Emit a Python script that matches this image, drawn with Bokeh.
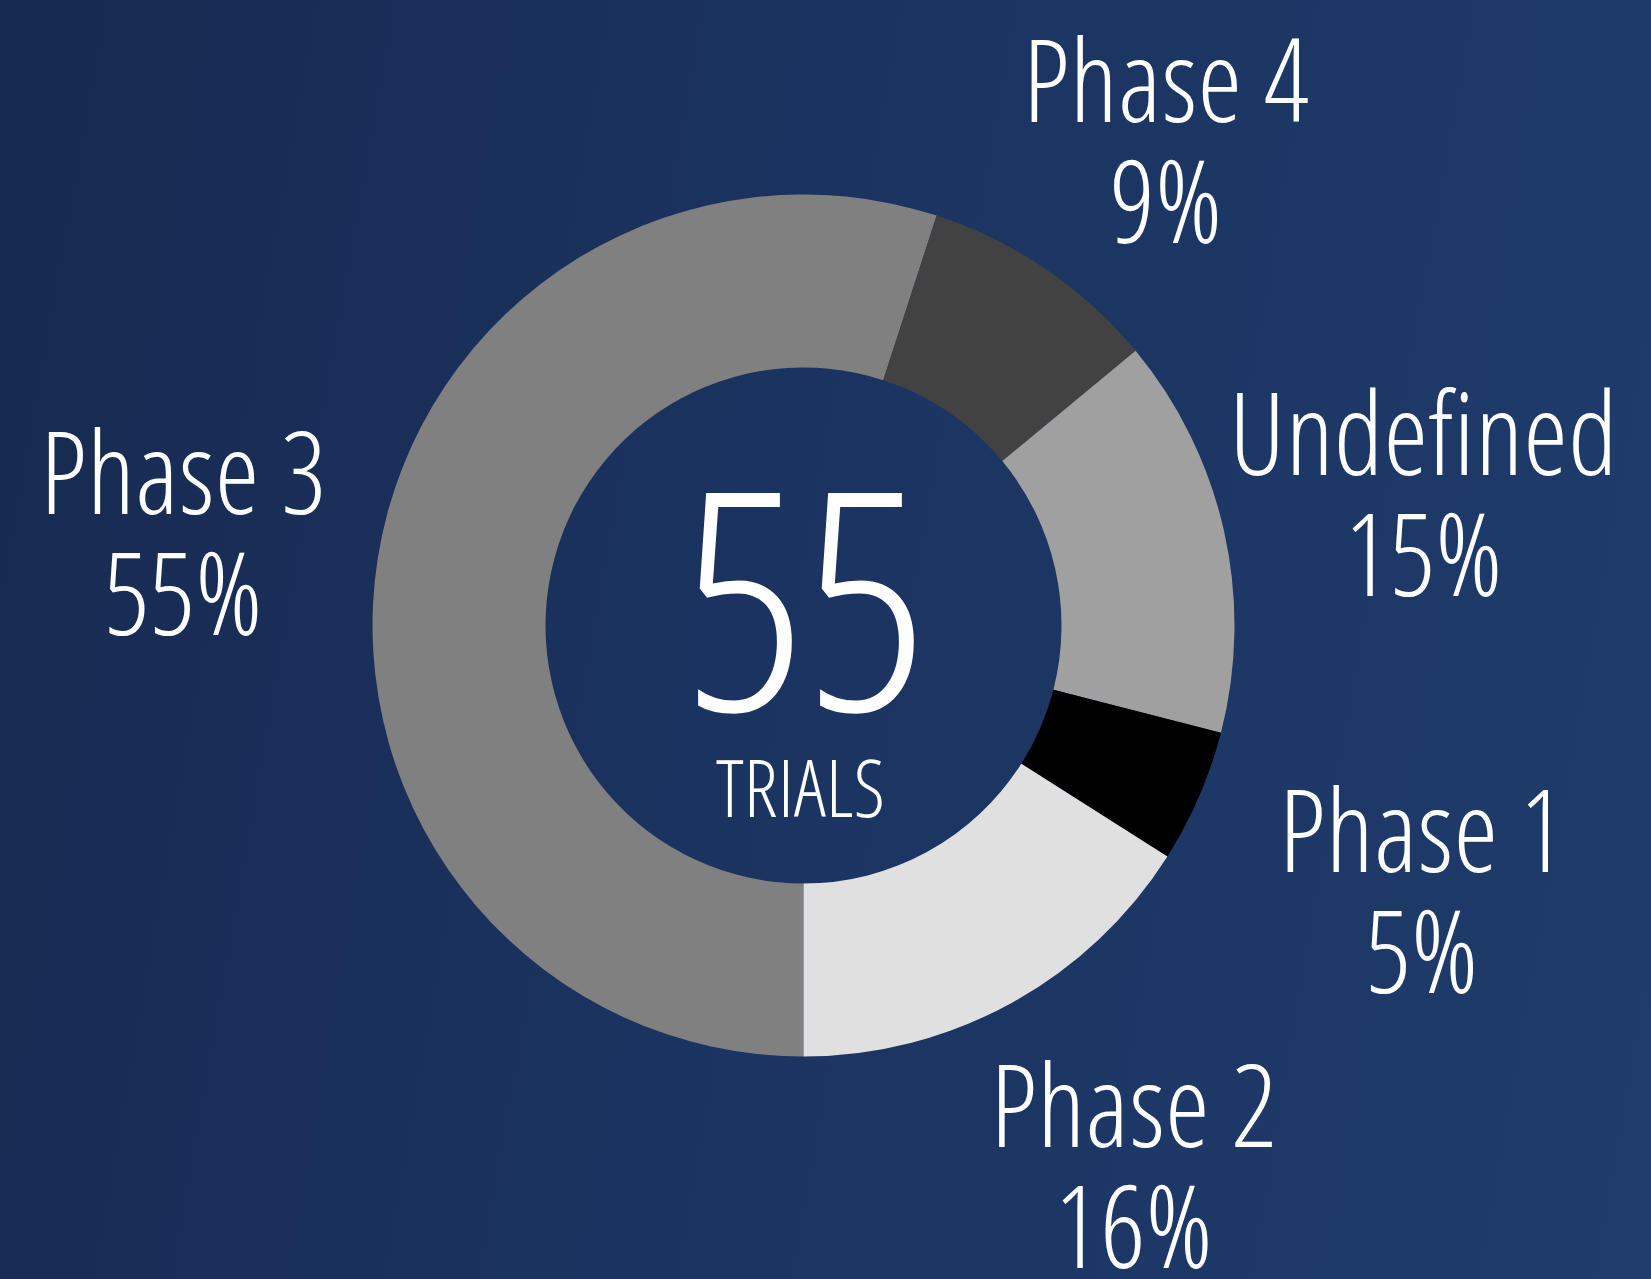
import math
from bokeh.plotting import figure
from bokeh.models import ColumnDataSource, Range1d
from bokeh.embed import file_html
from bokeh.resources import INLINE
from bokeh.core.properties import value

# ---- data (clockwise from 6 o'clock) ----
categories = ["Phase 3", "Phase 4", "Undefined", "Phase 1", "Phase 2"]
percents = [55, 9, 15, 5, 16]
colors = ["#808080", "#424242", "#a0a0a0", "#000000", "#e0e0e0"]
total_trials = 55
center_caption = "TRIALS"

FONT = "Open Sans Condensed Light"

# ---- geometry (pixels, donut centre at 0,0) ----
W, H = 1651, 1279
CX, CY = 803, 625          # donut centre in page pixels
R_OUT, R_IN = 431, 258
LABEL_R = 627
LABEL_SIZE = 114
BIG_SIZE = 305
CAP_SIZE = 80
BASE_FIX = 0.316           # bokeh's alphabetic baseline sits this many em low
# small per-label nudges (x, y) in px
nudges = {"Phase 3": (-1, 4), "Phase 4": (10, -25), "Undefined": (8, 4),
          "Phase 1": (43, -7), "Phase 2": (28, 18)}

tot = float(sum(percents))
start_c = 180.0  # compass degrees (clockwise from top)
starts, ends, lx, ly = [], [], [], []
acc = start_c
for cat, pct in zip(categories, percents):
    a0 = acc
    a1 = acc + pct / tot * 360.0
    acc = a1
    starts.append(math.radians(90 - a0))
    ends.append(math.radians(90 - a1))
    mid = math.radians((a0 + a1) / 2)
    nx, ny = nudges[cat]
    lx.append(LABEL_R * math.sin(mid) + nx)
    ly.append(LABEL_R * math.cos(mid) + ny)

fix_l = BASE_FIX * LABEL_SIZE
src = ColumnDataSource(dict(
    cat=categories, pct=[f"{v}%" for v in percents], color=colors,
    start=starts, end=ends,
    x0=[0] * len(categories), y0=[0] * len(categories),
    lx=lx, ly1=[y + 18 + fix_l for y in ly], ly2=[y - 103 + fix_l for y in ly],
))

p = figure(width=W, height=H, output_backend="svg", toolbar_location=None,
           x_range=Range1d(-CX, W - CX), y_range=Range1d(CY - H, CY),
           min_border=0, outline_line_color=None)
p.axis.visible = False
p.grid.visible = False
p.background_fill_alpha = 0
p.border_fill_alpha = 0
p.styles = {"background": "linear-gradient(100deg, #172a50 0%, #1b3360 45%, #1f3c6c 100%)"}

p.annular_wedge(x="x0", y="y0", inner_radius=R_IN, outer_radius=R_OUT,
                start_angle="start", end_angle="end", direction="clock",
                fill_color="color", line_color=None, source=src)

p.text(x="lx", y="ly1", text="cat", source=src, text_font=value(FONT),
       text_font_size=f"{LABEL_SIZE}px", text_color="white", text_align="center",
       text_baseline="alphabetic")
p.text(x="lx", y="ly2", text="pct", source=src, text_font=value(FONT),
       text_font_size=f"{LABEL_SIZE}px", text_color="white", text_align="center",
       text_baseline="alphabetic")

p.text(x=[2], y=[-72 + BASE_FIX * BIG_SIZE], text=[str(total_trials)], text_font=value(FONT),
       text_font_size=f"{BIG_SIZE}px", text_color="white", text_align="center",
       text_baseline="alphabetic")
p.text(x=[-3], y=[-185 + BASE_FIX * CAP_SIZE], text=[center_caption], text_font=value(FONT),
       text_font_size=f"{CAP_SIZE}px", text_color="white", text_align="center",
       text_baseline="alphabetic")

open("out.html", "w").write(file_html(p, INLINE))
